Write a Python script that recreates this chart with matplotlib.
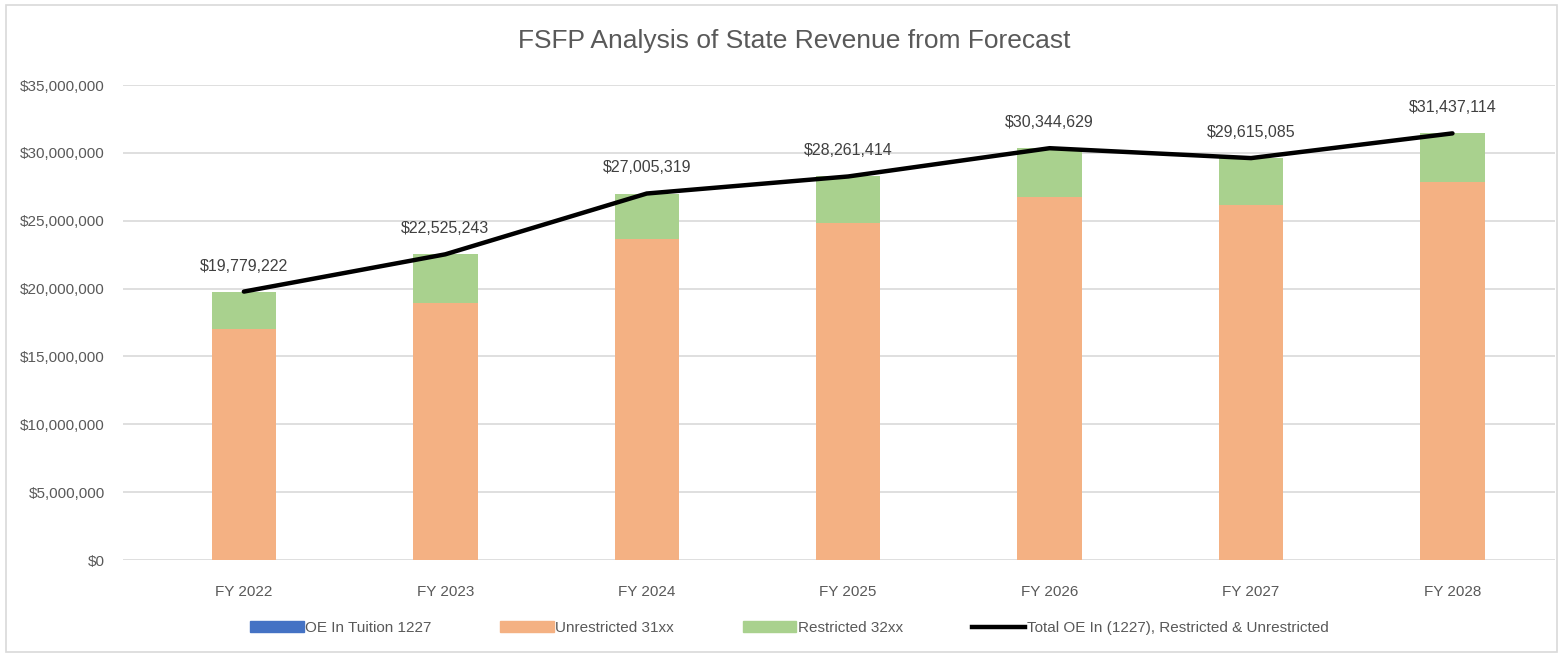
import numpy as np
import matplotlib.pyplot as plt
from matplotlib.patches import Rectangle
from matplotlib.lines import Line2D
from matplotlib.ticker import FuncFormatter

plt.rcParams['font.family'] = ['Liberation Sans', 'DejaVu Sans']

years = ["FY 2022", "FY 2023", "FY 2024", "FY 2025", "FY 2026", "FY 2027", "FY 2028"]
totals = [19779222, 22525243, 27005319, 28261414, 30344629, 29615085, 31437114]
unrestricted = [17020000, 18940000, 23630000, 24860000, 26770000, 26160000, 27880000]
tuition = [0, 0, 0, 0, 0, 0, 0]
restricted = [t - u for t, u in zip(totals, unrestricted)]

c_blue = "#4472C4"
c_orange = "#F4B183"
c_green = "#A9D18E"
c_text = "#595959"

fig = plt.figure(figsize=(15.63, 6.57), dpi=100)
fig.patches.append(Rectangle((0.004, 0.008), 0.992, 0.984, transform=fig.transFigure,
                             fill=False, edgecolor="#d9d9d9", linewidth=1.2))
ax = fig.add_axes([0.0787, 0.1476, 0.9163, 0.723])

x = np.arange(len(years))
w = 0.32
ax.bar(x, tuition, w, color=c_blue, zorder=2)
ax.bar(x, unrestricted, w, bottom=tuition, color=c_orange, zorder=2)
ax.bar(x, restricted, w, bottom=np.add(tuition, unrestricted), color=c_green, zorder=2)
ax.plot(x, totals, color="black", linewidth=3.2, zorder=3, solid_capstyle="round")

for xi, t in zip(x, totals):
    ax.annotate(f"${t:,.0f}", (xi, t), xytext=(0, 13), textcoords="offset points",
                ha="center", va="bottom", fontsize=11.5, color="#404040")

ax.set_ylim(0, 35000000)
ax.set_xlim(-0.6, 6.51)
ax.set_yticks(np.arange(0, 35000001, 5000000))
ax.yaxis.set_major_formatter(FuncFormatter(lambda v, p: f"${v:,.0f}"))
ax.set_xticks(x)
ax.set_xticklabels(years)
ax.tick_params(axis="both", length=0, labelsize=11, labelcolor=c_text)
ax.tick_params(axis="x", pad=18)
ax.tick_params(axis="y", pad=13)
ax.grid(axis="y", color="#d9d9d9", linewidth=1.2, zorder=0)
ax.set_axisbelow(True)
for s in ax.spines.values():
    s.set_visible(False)

fig.text(0.508, 0.937, "FSFP Analysis of State Revenue from Forecast", ha="center", va="center",
         fontsize=19, color=c_text)

handles = [Rectangle((0, 0), 1, 1, color=c_blue), Rectangle((0, 0), 1, 1, color=c_orange),
           Rectangle((0, 0), 1, 1, color=c_green), Line2D([], [], color="black", linewidth=3.2)]
labels = ["OE In Tuition 1227", "Unrestricted 31xx", "Restricted 32xx",
          "Total OE In (1227), Restricted & Unrestricted"]
fig.legend(handles, labels, loc="center", bbox_to_anchor=(0.505, 0.044), ncol=4, frameon=False,
           fontsize=11, labelcolor=c_text, handlelength=3.5, handleheight=0.7,
           handletextpad=0.1, columnspacing=4.5)

fig.savefig("out.png", dpi=100)
